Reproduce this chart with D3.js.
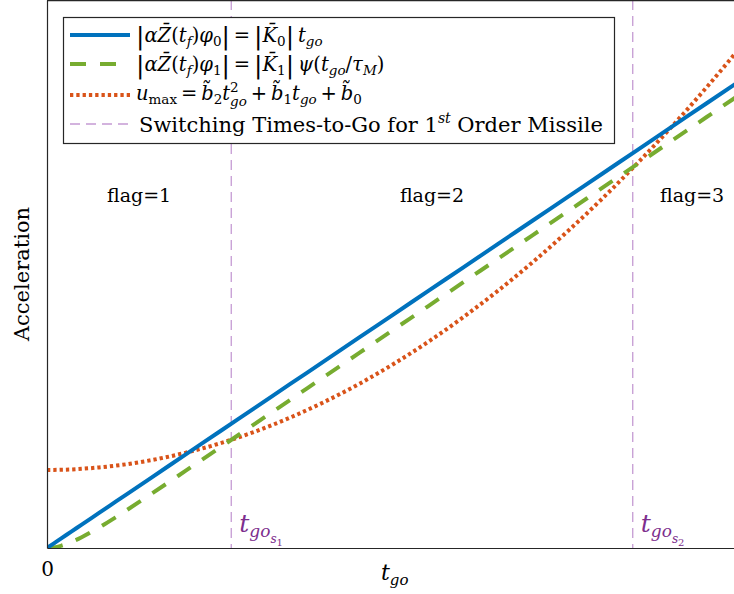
<!DOCTYPE html>
<html><head><meta charset="utf-8">
<script src="https://cdn.jsdelivr.net/npm/d3@7"></script>
<style>body{margin:0;background:#fff}svg{display:block}</style>
</head><body><svg id="c" width="734" height="594"></svg>
<script>
const tgo = [0, 0.1, 0.2, 0.35, 0.5, 0.75, 1, 1.5, 2, 2.5, 3, 3.5, 4, 4.5, 5, 5.5, 6, 6.5, 7, 7.5, 8, 8.5, 9, 9.5, 10];
const blueVals = [0, 0.068, 0.137, 0.239, 0.342, 0.512, 0.683, 1.025, 1.366, 1.708, 2.049, 2.391, 2.732, 3.074, 3.415, 3.757, 4.098, 4.44, 4.781, 5.123, 5.464, 5.806, 6.147, 6.489, 6.83];
const greenVals = [0, 0.009, 0.032, 0.087, 0.158, 0.299, 0.455, 0.788, 1.129, 1.472, 1.816, 2.160, 2.504, 2.848, 3.192, 3.536, 3.880, 4.224, 4.568, 4.912, 5.256, 5.600, 5.944, 6.288, 6.632];
const redVals = [1.139, 1.140, 1.142, 1.147, 1.156, 1.176, 1.203, 1.282, 1.391, 1.530, 1.701, 1.902, 2.135, 2.397, 2.691, 3.015, 3.371, 3.757, 4.174, 4.621, 5.100, 5.609, 6.149, 6.720, 7.321];
const switchTimes = [2.655, 8.44];
const flagLabels = ["flag=1", "flag=2", "flag=3"];
const xTicks = [0];
const xDomain = [0, 10];
const yDomain = [0, 8];

const FONT = "DejaVu Serif";
const svg = d3.select("#c").style("font-family", FONT);
const x = d3.scaleLinear().domain(xDomain).range([47, 741]);
const y = d3.scaleLinear().domain(yDomain).range([548, 0]);

const colors = {blue: "#0072BD", green: "#77AC30", red: "#D95319", sw: "#C59BD3", swText: "#7E2F8E"};

svg.append("defs").append("clipPath").attr("id", "clip")
  .append("rect").attr("x", 47).attr("y", 0).attr("width", 694).attr("height", 548);

const plot = svg.append("g").attr("clip-path", "url(#clip)");

plot.selectAll("line.sw").data(switchTimes).enter().append("line")
  .attr("x1", d => x(d)).attr("x2", d => x(d))
  .attr("y1", y(yDomain[1])).attr("y2", y(0))
  .attr("stroke", colors.sw).attr("stroke-width", 1.3).attr("stroke-dasharray", "10,6");

const line = vals => d3.line().x((d, i) => x(tgo[i])).y(d => y(d)).curve(d3.curveMonotoneX)(vals);

plot.append("path").attr("d", line(redVals)).attr("fill", "none")
  .attr("stroke", colors.red).attr("stroke-width", 4).attr("stroke-dasharray", "3.3,3");
plot.append("path").attr("d", line(greenVals)).attr("fill", "none")
  .attr("stroke", colors.green).attr("stroke-width", 4).attr("stroke-dasharray", "16,14");
plot.append("path").attr("d", line(blueVals)).attr("fill", "none")
  .attr("stroke", colors.blue).attr("stroke-width", 4);

// axes
const xAxis = d3.axisBottom(x).tickValues(xTicks).tickSize(0).tickPadding(14).tickFormat(d3.format("d"));
const gx = svg.append("g").attr("transform", `translate(0,${y(0)})`).call(xAxis).attr("font-family", FONT);
gx.select(".domain").attr("stroke", "#262626").attr("stroke-width", 1.2);
gx.selectAll("text").attr("font-size", 20).attr("fill", "#000").style("font-family", FONT);
const yAxis = d3.axisLeft(y).tickValues([]).tickSize(0);
const gy = svg.append("g").attr("transform", `translate(${x(0)},0)`).call(yAxis);
gy.select(".domain").attr("stroke", "#262626").attr("stroke-width", 1.2);
svg.append("line").attr("x1", x(0)).attr("x2", 741).attr("y1", 0.6).attr("y2", 0.6)
  .attr("stroke", "#262626").attr("stroke-width", 1.2);

function rich(parent, x0, y0, segs, baseFs, fill) {
  const t = parent.append("text").attr("x", x0).attr("y", y0).attr("font-size", baseFs).style("font-family", FONT);
  if (fill) t.attr("fill", fill);
  let cur = 0;
  segs.forEach(g => {
    const sp = t.append("tspan").text(g.s);
    if (g.i) sp.attr("font-style", "italic");
    sp.attr("font-size", g.fs || baseFs);
    const b = g.b || 0;
    if (b !== cur) { sp.attr("dy", b - cur); cur = b; }
    if (g.dx) sp.attr("dx", g.dx);
  });
  return t;
}

rich(svg, 381, 580, [{s: "t", i: 1}, {s: "go", i: 1, fs: 15, b: 5}], 22);
svg.append("text").attr("transform", "translate(29,274) rotate(-90)").attr("text-anchor", "middle")
  .style("font-family", FONT).attr("font-size", 21).text("Acceleration");

switchTimes.forEach((s, i) => {
  rich(svg, x(s) + 8, 532, [
    {s: "t", i: 1}, {s: "go", i: 1, fs: 17, b: 5}, {s: "s", i: 1, fs: 12, b: 11}, {s: String(i + 1), fs: 10, b: 14}
  ], 25, colors.swText);
});

const bounds = [xDomain[0], ...switchTimes, xDomain[1] + 0.15];
flagLabels.forEach((f, i) => {
  svg.append("text").attr("x", x((bounds[i] + bounds[i + 1]) / 2)).attr("y", 202)
    .attr("text-anchor", "middle").style("font-family", FONT).attr("font-size", 19).text(f);
});

// legend
const lg = svg.append("g");
lg.append("rect").attr("x", 63.5).attr("y", 17.5).attr("width", 551).attr("height", 126)
  .attr("fill", "#fff").attr("stroke", "#262626").attr("stroke-width", 1.2);
const rows = [
  {c: colors.blue, da: null, w: 4, y: 35},
  {c: colors.green, da: "16,14", w: 4, y: 64},
  {c: colors.red, da: "3.3,3", w: 4, y: 95},
  {c: colors.sw, da: "10,6", w: 1.3, y: 124}
];
rows.forEach(r => {
  const l = lg.append("line").attr("x1", 70).attr("x2", 130).attr("y1", r.y).attr("y2", r.y)
    .attr("stroke", r.c).attr("stroke-width", r.w);
  if (r.da) l.attr("stroke-dasharray", r.da);
});
const fs = 19.5, sfs = 13.5, bar = 25;
const EQ = "\u2009=\u2009", PL = "\u2009+\u2009";
rich(lg, 136, 42, [
  {s: "|", fs: bar, b: 2}, {s: "α", i: 1}, {s: "Z\u0304", i: 1}, {s: "("}, {s: "t", i: 1}, {s: "f", i: 1, fs: sfs, b: 4},
  {s: ")"}, {s: "φ", i: 1}, {s: "0", fs: sfs, b: 4}, {s: "|", fs: bar, b: 2}, {s: EQ}, {s: "|", fs: bar, b: 2},
  {s: "K\u0304", i: 1}, {s: "0", fs: sfs, b: 4}, {s: "|", fs: bar, b: 2}, {s: "\u2009t", i: 1}, {s: "go", i: 1, fs: sfs, b: 4}
], fs);
rich(lg, 136, 71, [
  {s: "|", fs: bar, b: 2}, {s: "α", i: 1}, {s: "Z\u0304", i: 1}, {s: "("}, {s: "t", i: 1}, {s: "f", i: 1, fs: sfs, b: 4},
  {s: ")"}, {s: "φ", i: 1}, {s: "1", fs: sfs, b: 4}, {s: "|", fs: bar, b: 2}, {s: EQ}, {s: "|", fs: bar, b: 2},
  {s: "K\u0304", i: 1}, {s: "1", fs: sfs, b: 4}, {s: "|", fs: bar, b: 2}, {s: "\u2009ψ", i: 1}, {s: "("}, {s: "t", i: 1},
  {s: "go", i: 1, fs: sfs, b: 4}, {s: "/"}, {s: "τ", i: 1}, {s: "M", i: 1, fs: sfs, b: 4}, {s: ")"}
], fs);
const r3 = rich(lg, 136, 100, [
  {s: "u", i: 1}, {s: "max", fs: sfs, b: 4}, {s: EQ}, {s: "b\u0303", i: 1}, {s: "2", fs: sfs, b: 4},
  {s: "t", i: 1}, {s: "2", fs: sfs, b: -8}
], fs);
const sup = r3.selectAll("tspan").nodes().slice(-1)[0];
const supW = sup.getComputedTextLength();
r3.append("tspan").attr("font-style", "italic").attr("font-size", sfs).attr("dx", -supW).attr("dy", 14).text("go");
let cont = [{s: PL}, {s: "b\u0303", i: 1}, {s: "1", fs: sfs, b: 4}, {s: "t", i: 1}, {s: "go", i: 1, fs: sfs, b: 4},
  {s: PL}, {s: "b\u0303", i: 1}, {s: "0", fs: sfs, b: 4}];
let curB = 6;
cont.forEach(g => {
  const sp = r3.append("tspan").text(g.s).attr("font-size", g.fs || fs);
  if (g.i) sp.attr("font-style", "italic");
  const b = g.b || 0;
  if (b !== curB) { sp.attr("dy", b - curB); curB = b; }
});
rich(lg, 139, 132, [
  {s: "Switching Times-to-Go for 1"}, {s: "st", i: 1, fs: 14, b: -9}, {s: " Order Missile"}
], 21);
</script></body></html>
